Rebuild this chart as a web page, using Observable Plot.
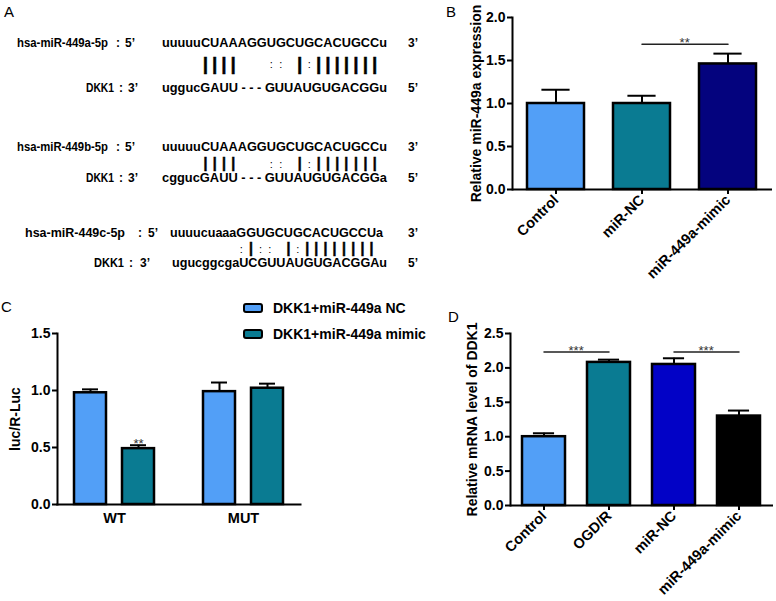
<!DOCTYPE html>
<html><head><meta charset="utf-8">
<script src="https://cdn.jsdelivr.net/npm/d3@7"></script>
<script src="https://cdn.jsdelivr.net/npm/@observablehq/plot@0.6"></script>
<style>
html,body{margin:0;padding:0;background:#fff;}
#root{position:relative;width:776px;height:601px;overflow:hidden;background:#fff;font-family:"Liberation Sans",Arial,sans-serif;color:#000;}
.panel{position:absolute;}
.letter{position:absolute;font-size:15px;line-height:16px;}
.leg{position:absolute;font-size:14px;font-weight:bold;line-height:16px;white-space:nowrap;}
.box{position:absolute;width:16px;height:6px;border:2px solid #000;border-radius:3px;}
</style></head><body><div id="root"></div>
<script>
// ---------- Panel A: sequence alignments ----------
const aMirNames = ["hsa-miR-449a-5p", "hsa-miR-449b-5p", "hsa-miR-449c-5p"];
const aMirSeqs = ["uuuuuCUAAAGGUGCUGCACUGCCu", "uuuuuCUAAAGGUGCUGCACUGCCu", "uuuucuaaaGGUGCUGCACUGCCUa"];
const aPairs = ["     ||||   :: |:||||||| ", "     ||||   :: |:||||||| ", "         :|:: |:|||||||| "];
const aTargetName = "DKK1";
const aTargetSeqs = ["uggucGAUU - - - GUUAUGUGACGGu", "cggucGAUU - - - GUUAUGUGACGGa", "ugucggcgaUCGUUAUGUGACGGAu"];

// ---------- Panel B ----------
const bCategories = ["Control", "miR-NC", "miR-449a-mimic"];
const bValues = [1.00, 1.00, 1.46];
const bErrors = [0.16, 0.09, 0.12];
const bColors = ["#529ff7", "#0a7b92", "#04037e"];
const bSigPairs = [["miR-NC", "miR-449a-mimic"]];
const bSigY = 1.69;
const bSigLabel = "**";
const bTicks = [0, 0.5, 1.0, 1.5, 2.0];
const bYLabel = "Relative miR-449a expression";

// ---------- Panel C ----------
const cGroups = ["WT", "MUT"];
const cSeriesKeys = ["NC", "mimic"];
const cSeriesNames = ["DKK1+miR-449a NC", "DKK1+miR-449a mimic"];
const cNCValues = [0.98, 0.99];
const cNCErrors = [0.03, 0.08];
const cMimicValues = [0.49, 1.02];
const cMimicErrors = [0.03, 0.04];
const cColors = ["#529ff7", "#0a7b92"];
const cStarGroup = ["WT"];
const cStarSeries = ["mimic"];
const cStarLabel = ["**"];
const cTicks = [0, 0.5, 1.0, 1.5];
const cYLabel = "luc/R-Luc";

// ---------- Panel D ----------
const dCategories = ["Control", "OGD/R", "miR-NC", "miR-449a-mimic"];
const dValues = [1.00, 2.08, 2.05, 1.30];
const dErrors = [0.05, 0.04, 0.09, 0.08];
const dColors = ["#529ff7", "#0a7b92", "#0202c6", "#000000"];
const dSigPairs = [["Control", "OGD/R"], ["miR-NC", "miR-449a-mimic"]];
const dSigY = 2.23;
const dSigLabel = "***";
const dTicks = [0, 0.5, 1.0, 1.5, 2.0, 2.5];
const dYLabel = "Relative mRNA level of DDK1";

const FONT = "'Liberation Sans', Arial, Helvetica, sans-serif";
const root = document.getElementById("root");

function place(node, left, top, w, h) {
  const div = document.createElement("div");
  div.className = "panel";
  div.style.left = left + "px";
  div.style.top = top + "px";
  if (w) div.style.width = w + "px";
  if (h) div.style.height = h + "px";
  div.appendChild(node);
  root.appendChild(div);
  return div;
}
function letter(t, left, cy) {
  const d = document.createElement("div");
  d.className = "letter"; d.textContent = t;
  d.style.left = left + "px"; d.style.top = (cy - 8) + "px";
  root.appendChild(d);
}

// ---------- Draw Panel A ----------
(function drawA() {
  const svg = d3.create("svg").attr("width", 460).attr("height", 300)
    .style("font-family", FONT).style("font-weight", "bold").style("overflow", "visible");
  place(svg.node(), 0, 0, 460, 300);
  const rowY = [[43, 63, 88], [147, 162.5, 178], [233, 248, 263]];
  const barSize = [19, 14, 14];
  // [name x, name width, colon x, prime x, seq x, seq width]
  const mirX = [[17, 91, 116, 125, 162, 225], [17, 91, 116, 125, 162, 225], [25, 100, 138, 148, 170, 213]];
  const tgtX = [[86, 28, 119, 128, 162, 225], [86, 28, 119, 128, 162, 225], [94, 30, 129, 140, 172, 215]];
  const endX = 408;
  function t(str, x, y, size, len) {
    const el = svg.append("text").attr("x", x).attr("y", y).attr("dominant-baseline", "central")
      .attr("font-size", size).style("white-space", "pre").text(str);
    if (len) el.attr("textLength", len).attr("lengthAdjust", "spacingAndGlyphs");
    return el;
  }
  aMirNames.forEach((name, i) => {
    const [y1, yb, y2] = rowY[i];
    const mx = mirX[i], tx = tgtX[i];
    t(name, mx[0], y1, 12, mx[1]);
    t(":", mx[2], y1, 12);
    t("5\u2019", mx[3], y1, 12);
    const seq = t(aMirSeqs[i], mx[4], y1, 12.5, mx[5]);
    t("3\u2019", endX, y1, 12);
    t(aTargetName, tx[0], y2, 12, tx[1]);
    t(":", tx[2], y2, 12);
    t("3\u2019", tx[3], y2, 12);
    t(aTargetSeqs[i], tx[4], y2, 12.5, tx[5]);
    t("5\u2019", endX, y2, 12);
    // pairing symbols aligned under the miRNA characters
    const node = seq.node();
    [...aPairs[i]].forEach((ch, k) => {
      if (ch === " ") return;
      let cx;
      try { const r = node.getExtentOfChar(k); cx = r.x + r.width / 2; }
      catch (e) { cx = mx[4] + (k + 0.5) * mx[5] / aMirSeqs[i].length; }
      if (ch === "|") {
        svg.append("text").attr("x", cx).attr("y", yb).attr("text-anchor", "middle")
          .attr("dominant-baseline", "central").attr("font-size", barSize[i])
          .attr("stroke", "#000").attr("stroke-width", 0.5).text("|");
      } else {
        svg.append("text").attr("x", cx).attr("y", yb + 1).attr("text-anchor", "middle")
          .attr("dominant-baseline", "central").attr("font-size", 11).attr("font-weight", "normal").text(":");
      }
    });
  });
})();

const plotStyle = {fontFamily: FONT, fontSize: "14px", fontWeight: "bold", color: "#000", background: "transparent", overflow: "visible"};

// ---------- Bar panel (B and D) ----------
function barPanel(cfg) {
  const {cats, vals, errs, colors, sigPairs, sigY, sigLabel, yMax, ticks, yLabel, width, height, mL, mR, mT, mB, labelOffset} = cfg;
  const pi = 0.335;
  const step = (width - mL - mR) / cats.length;
  const bw = step * (1 - pi);
  const data = cats.map((c, i) => ({cat: c, v: vals[i], top: vals[i] + errs[i]}));
  const sig = sigPairs.flatMap((p, k) => p.map(c => ({cat: c, y: sigY, k})));
  const sigText = sigPairs.map((p, k) => ({cat: p[1], y: sigY, label: sigLabel}));
  return Plot.plot({
    width, height, marginLeft: mL, marginRight: mR, marginTop: mT, marginBottom: mB,
    style: plotStyle,
    x: {domain: cats, paddingInner: pi, paddingOuter: pi / 2, label: null},
    y: {domain: [0, yMax], label: null},
    color: {domain: cats, range: colors},
    marks: [
      Plot.ruleX(data, {x: "cat", y1: "v", y2: "top", stroke: "#000", strokeWidth: 2}),
      Plot.tickY(data, {x: "cat", y: "top", stroke: "#000", strokeWidth: 2, insetLeft: bw / 4, insetRight: bw / 4}),
      Plot.barY(data, {x: "cat", y: "v", fill: "cat", stroke: "#000", strokeWidth: 2.5}),
      Plot.lineY(sig, {x: "cat", y: "y", z: "k", stroke: "#222", strokeWidth: 1.5}),
      Plot.text(sigText, {x: "cat", y: "y", text: "label", dx: -step / 2, dy: 3, lineAnchor: "bottom", fontSize: 13, fontWeight: "normal", fill: "#333"}),
      Plot.frame({anchor: "left", stroke: "#000", strokeWidth: 2}),
      Plot.ruleY([0], {stroke: "#000", strokeWidth: 2}),
      Plot.axisY({ticks, tickFormat: d3.format(".1f"), tickSize: 5, tickPadding: 2, strokeWidth: 2,
        label: yLabel, labelAnchor: "center", labelOffset, labelArrow: "none"}),
      Plot.axisX({tickRotate: -45, tickSize: 5, tickPadding: 3, strokeWidth: 2, fontSize: 14.5, label: null})
    ]
  });
}

const bPlot = barPanel({cats: bCategories, vals: bValues, errs: bErrors, colors: bColors,
  sigPairs: bSigPairs, sigY: bSigY, sigLabel: bSigLabel, yMax: 2, ticks: bTicks, yLabel: bYLabel,
  width: 316, height: 300, mL: 52, mR: 4, mT: 17, mB: 111, labelOffset: 41});
place(bPlot, 460, 0, 316, 300);

const dPlot = barPanel({cats: dCategories, vals: dValues, errs: dErrors, colors: dColors,
  sigPairs: dSigPairs, sigY: dSigY, sigLabel: dSigLabel, yMax: 2.5, ticks: dTicks, yLabel: dYLabel,
  width: 316, height: 301, mL: 50, mR: 3, mT: 33, mB: 96, labelOffset: 43});
place(dPlot, 460, 300, 316, 301);

// ---------- Panel C (grouped bars via facets) ----------
(function drawC() {
  const data = cGroups.flatMap((g, i) => [
    {group: g, s: cSeriesKeys[0], v: cNCValues[i], top: cNCValues[i] + cNCErrors[i]},
    {group: g, s: cSeriesKeys[1], v: cMimicValues[i], top: cMimicValues[i] + cMimicErrors[i]}
  ]);
  const stars = cStarGroup.map((g, k) => {
    const d = data.find(r => r.group === g && r.s === cStarSeries[k]);
    return {group: g, s: cStarSeries[k], y: d.top, label: cStarLabel[k]};
  });
  const W = 320, H = 230, mL = 49, mR = 13;
  const fxPi = 0.12;
  const fxStep = (W - mL - mR) / 2;
  const fxBw = fxStep * (1 - fxPi);
  const xPi = 0.333, xPo = 0.35;
  const xStep = fxBw / (2 - xPi + 2 * xPo);
  const bw = xStep * (1 - xPi);
  const p = Plot.plot({
    width: W, height: H, marginLeft: mL, marginRight: mR, marginTop: 33, marginBottom: 26,
    style: plotStyle,
    fx: {domain: cGroups, paddingInner: fxPi, paddingOuter: fxPi / 2, label: null},
    x: {domain: cSeriesKeys, paddingInner: xPi, paddingOuter: xPo, axis: null},
    y: {domain: [0, 1.5], label: null},
    color: {domain: cSeriesKeys, range: cColors},
    marks: [
      Plot.ruleX(data, {fx: "group", x: "s", y1: "v", y2: "top", stroke: "#000", strokeWidth: 2}),
      Plot.tickY(data, {fx: "group", x: "s", y: "top", stroke: "#000", strokeWidth: 2, insetLeft: bw / 4, insetRight: bw / 4}),
      Plot.barY(data, {fx: "group", x: "s", y: "v", fill: "s", stroke: "#000", strokeWidth: 2.5}),
      Plot.text(stars, {fx: "group", x: "s", y: "y", text: "label", dy: 3, lineAnchor: "bottom", fontSize: 13, fontWeight: "normal", fill: "#333"}),
      Plot.frame({anchor: "left", stroke: "#000", strokeWidth: 2, facet: "super"}),
      Plot.frame({anchor: "bottom", stroke: "#000", strokeWidth: 2, facet: "super"}),
      Plot.axisY({ticks: cTicks, tickFormat: d3.format(".1f"), tickSize: 5, tickPadding: 2, strokeWidth: 2,
        label: cYLabel, labelAnchor: "center", labelOffset: 47, labelArrow: "none"}),
      Plot.axisFx({anchor: "bottom", tickSize: 0, tickPadding: 8, fontSize: 14.5, label: null})
    ]
  });
  place(p, 0, 300, W, H);
  // legend
  const legTops = [303, 329];
  cSeriesNames.forEach((name, i) => {
    const box = document.createElement("div");
    box.className = "box";
    box.style.left = "243px"; box.style.top = legTops[i] + "px";
    box.style.background = cColors[i];
    root.appendChild(box);
    const lab = document.createElement("div");
    lab.className = "leg"; lab.textContent = name;
    lab.style.left = "273px"; lab.style.top = (legTops[i] + 5 - 8) + "px";
    root.appendChild(lab);
  });
})();

letter("A", 4, 12);
letter("B", 446, 12);
letter("C", 1, 307);
letter("D", 448, 317);
</script></body></html>
